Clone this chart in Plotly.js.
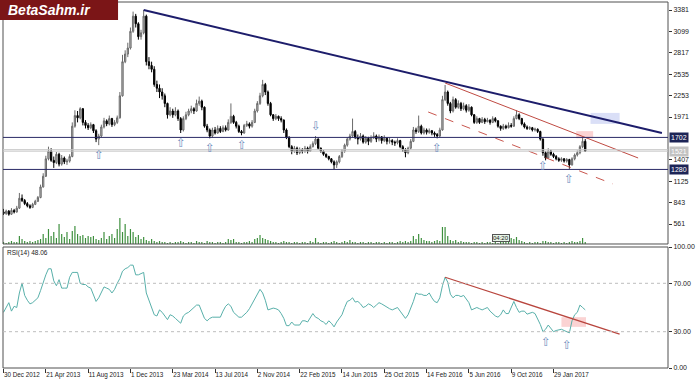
<!DOCTYPE html>
<html><head><meta charset="utf-8">
<script src="https://cdn.plot.ly/plotly-3.0.1.min.js"></script>
<style>html,body{margin:0;padding:0;background:#fff}#chart{width:700px;height:382px}</style>
</head><body><div id="chart"></div>
<script>
// ---- weekly OHLC (bar index = week since 30 Dec 2012) ----
const open = [720,700,730,690,740,720,770,900,870,830,
800,780,820,860,910,1050,1190,1420,1520,1400,
1370,1480,1350,1430,1380,1390,1450,1850,1990,1960,
2080,1900,1860,1830,1870,1790,1680,1720,1840,1920,
1880,1950,1870,1900,1960,2250,2700,2800,2880,3100,
3300,3200,3030,3080,3300,2700,2650,2600,2400,2350,
2300,2250,2150,2000,2050,2000,2050,1950,1800,1950,
2000,2050,2080,2050,2150,2180,2100,1850,1800,1720,
1800,1760,1820,1780,1830,1800,1900,1980,1900,1850,
1780,1760,1860,1880,1850,1900,2050,2150,2250,2400,
2300,2150,2000,1950,1980,1950,1930,1800,1700,1580,
1520,1560,1500,1540,1520,1560,1520,1580,1620,1680,
1560,1520,1480,1450,1420,1380,1340,1380,1450,1520,
1600,1680,1720,1780,1700,1680,1720,1640,1690,1650,
1700,1720,1680,1710,1660,1690,1650,1660,1640,1630,
1660,1580,1540,1500,1560,1650,1800,1780,1850,1760,
1800,1770,1790,1760,1740,1720,1800,2200,2300,2150,
2050,2200,2100,2150,2080,2120,2060,2100,2000,1900,
1950,1900,1940,1910,1930,1900,1950,1920,1850,1820,
1850,1830,1860,1850,1950,2000,1950,1880,1840,1820,
1830,1800,1810,1780,1680,1500,1430,1520,1480,1450,
1420,1400,1420,1390,1410,1340,1420,1470,1500,1580,
1650];
const high = [760,750,745,770,760,800,970,950,890,850,
820,840,880,930,1080,1230,1460,1580,1560,1450,
1510,1500,1470,1450,1420,1480,1900,2060,2050,2100,
2090,1930,1890,1900,1880,1810,1750,1870,1960,1940,
1990,1960,1930,1990,2300,2790,2850,2950,3150,3360,
3330,3220,3120,3381,3320,2760,2700,2640,2450,2400,
2350,2280,2160,2100,2080,2100,2070,1970,1980,2040,
2080,2120,2100,2200,2240,2200,2110,1880,1820,1830,
1840,1860,1850,1860,1860,1940,2150,2000,1920,1870,
1800,1880,1920,1900,1930,2080,2180,2290,2460,2420,
2320,2170,2010,2010,1990,1980,1940,1820,1720,1600,
1590,1580,1570,1560,1590,1580,1610,1650,1720,1690,
1570,1530,1490,1460,1430,1400,1400,1470,1550,1620,
1700,1750,1950,1800,1740,1760,1740,1720,1710,1730,
1770,1740,1740,1720,1730,1700,1700,1680,1660,1690,
1670,1600,1560,1580,1680,1840,1830,1990,1870,1830,
1820,1820,1800,1780,1760,1830,2250,2393,2320,2170,
2240,2220,2190,2170,2160,2140,2140,2110,2010,1980,
1960,1970,1960,1960,1940,1980,1970,1930,1860,1880,
1870,1900,1890,1980,2060,2020,1960,1900,1860,1850,
1840,1830,1820,1790,1690,1520,1560,1540,1500,1470,
1440,1440,1430,1430,1420,1440,1490,1530,1600,1702,
1680];
const low = [680,680,670,680,700,710,760,850,810,780,
760,770,810,850,900,1040,1180,1400,1380,1300,
1350,1320,1330,1350,1340,1370,1440,1830,1900,1940,
1860,1820,1800,1810,1760,1640,1600,1700,1820,1850,
1860,1840,1850,1880,1950,2240,2680,2760,2860,3080,
3150,2990,2990,3060,2650,2600,2560,2370,2300,2220,
2200,2100,1950,1980,1960,1980,1920,1760,1780,1930,
1980,2020,2010,2040,2120,2060,1830,1770,1690,1700,
1740,1750,1760,1770,1780,1790,1880,1880,1820,1760,
1730,1750,1840,1820,1830,1890,2030,2130,2230,2260,
2120,1980,1920,1930,1920,1900,1760,1680,1560,1480,
1500,1470,1480,1490,1500,1490,1510,1570,1600,1540,
1500,1460,1430,1400,1360,1280,1300,1360,1430,1500,
1580,1660,1700,1680,1610,1660,1620,1620,1600,1630,
1680,1640,1650,1620,1640,1610,1620,1600,1590,1610,
1560,1510,1440,1480,1540,1640,1750,1760,1740,1740,
1740,1750,1730,1710,1690,1700,1790,2180,2120,2020,
2030,2080,2080,2050,2060,2030,2040,1980,1880,1880,
1880,1890,1880,1900,1870,1890,1900,1830,1790,1800,
1810,1820,1830,1840,1940,1930,1860,1820,1800,1800,
1780,1780,1760,1660,1460,1400,1420,1460,1430,1400,
1380,1380,1370,1370,1290,1330,1400,1450,1480,1560,
1510];
const close = [700,730,690,740,720,770,900,870,830,800,
780,820,860,910,1050,1190,1420,1520,1400,1370,
1480,1350,1430,1380,1390,1450,1850,1990,1960,2080,
1900,1860,1830,1870,1790,1680,1720,1840,1920,1880,
1950,1870,1900,1960,2250,2700,2800,2880,3100,3300,
3200,3030,3080,3300,2700,2650,2600,2400,2350,2300,
2250,2150,2000,2050,2000,2050,1950,1800,1950,2000,
2050,2080,2050,2150,2180,2100,1850,1800,1720,1800,
1760,1820,1780,1830,1800,1900,1980,1900,1850,1780,
1760,1860,1880,1850,1900,2050,2150,2250,2400,2300,
2150,2000,1950,1980,1950,1930,1800,1700,1580,1520,
1560,1500,1540,1520,1560,1520,1580,1620,1680,1560,
1520,1480,1450,1420,1380,1340,1380,1450,1520,1600,
1680,1720,1780,1700,1680,1720,1640,1690,1650,1700,
1720,1680,1710,1660,1690,1650,1660,1640,1630,1660,
1580,1540,1500,1560,1650,1800,1780,1850,1760,1800,
1770,1790,1760,1740,1720,1800,2200,2300,2150,2050,
2200,2100,2150,2080,2120,2060,2100,2000,1900,1950,
1900,1940,1910,1930,1900,1950,1920,1850,1820,1850,
1830,1860,1850,1950,2000,1950,1880,1840,1820,1830,
1800,1810,1780,1680,1500,1430,1520,1480,1450,1420,
1400,1420,1390,1410,1340,1420,1470,1500,1580,1650,
1521];
const volume = [2,1,2,3,2,2,8,5,3,2,
3,2,3,4,5,10,6,15,8,12,
6,20,10,7,12,5,13,18,10,8,
9,6,8,7,8,5,4,6,12,5,
8,10,6,15,26,12,20,8,15,12,
7,9,5,7,4,3,5,3,2,3,
2,2,1,2,1,2,2,3,2,1,
2,2,1,3,2,2,1,3,2,2,
1,2,2,1,2,5,4,5,2,2,
1,2,2,3,2,5,6,9,6,5,
4,3,2,2,1,2,3,2,2,1,
2,2,1,2,2,1,3,2,6,2,
1,2,2,1,2,3,2,1,2,3,
2,4,2,2,1,2,2,1,2,2,
1,2,2,1,2,1,2,2,1,2,
3,2,3,2,3,8,5,10,6,4,
3,3,2,3,4,3,17,17,8,4,
3,4,2,3,2,2,2,1,2,2,
1,2,1,2,2,1,2,1,3,2,
2,3,6,5,7,4,3,2,1,2,
1,2,2,1,3,3,2,2,1,2,
2,1,2,1,2,3,2,2,3,6,
2];
const rsi = [46,50,54,47,51,50,62,70,60,56,
53,54,56,58,64,71,77,82,82,72,
68,73,66,66,66,75,79,79,79,70,
69,69,67,66,60,55,58,63,67,66,
65,62,65,70,74,80,82,83,85,85,
77,77,78,79,62,56,50,44,43,48,
46,43,40,44,43,41,39,37,43,45,
46,48,50,52,52,46,41,39,41,42,
42,42,42,47,51,53,51,46,44,42,
42,44,46,49,53,58,62,65,62,56,
48,49,49.5,49,48,45,41,35,35,38,
35.5,35.5,35.5,39,39,38,42,45,42,41,
39,38,36,39,37,34,38,41,44,50,
55,56,58,54.5,55,53,50,51,53,52,
50,52,54,53,51.5,50,49,48,49,50,
47,44,41,44,49,55,62,61,61,60,
60,62,58,55,54,58,68,75,71,61,
58,60,60,59,60,57,54,48,49,50,
49,48,49,50,47,45,43,42,44,48,
45,45,50,55,50,46,47,47,44.5,45.5,
46,45,41,36,30,32,35.5,33,30,31,
31.5,32,31,30,29,39,44,46,52,50,
48.06];

const tickBars = [0,16,32,48,64,80,96,112,128,144,160,176,192,208];
const tickLabels = ['30 Dec 2012','21 Apr 2013','11 Aug 2013','1 Dec 2013','23 Mar 2014','13 Jul 2014','2 Nov 2014','22 Feb 2015','14 Jun 2015','25 Oct 2015','14 Feb 2016','5 Jun 2016','9 Oct 2016','29 Jan 2017'];
const priceTicks = [3381,3099,2817,2535,2253,1971,1407,1125,843,561];
const rsiTicks = [0,30,70,100];
const rsiTickLabels = ['0.00','30.00','70.00','100.00'];

// drawn objects (bar index, price)
const resistX = [53, 249], resistY = [3381, 1760];
const chanTopX = [167, 240], chanTopY = [2419, 1431];
const chanBotX = [160.6, 230.5], chanBotY = [2037, 1088];
const rsiLineX = [167, 233], rsiLineY = [75, 28];
const navyLevels = [1702, 1280];
const grayLevels = [1540, 1521];
const blueZoneX = [222, 233], blueZoneY = [1880, 2025];
const pinkZoneX = [216.6, 223], pinkZoneY = [1690, 1785];
const rsiZoneX = [211, 220.3], rsiZoneY = [34, 42];
const upArrowBars = [36, 67, 78, 90, 164, 204, 214];
const downArrowBars = [118];
const rsiArrowBars = [205, 213];
const lastLevels = [1702, 1521, 1280];
const lastLevelColors = ['#1c2456', '#c2c2c2', '#1c2456'];

const bars = close.map((_, i) => i);
const FONT = 'Liberation Sans, Arial, sans-serif';
const ARROW_FONT = {family:'DejaVu Sans', size:12, color:'#7090c0'};

const traces = [
  {type:'bar', x:bars, y:volume, xaxis:'x', yaxis:'y3', width:0.45,
   marker:{color:'#3d8f3d', line:{width:0}}, hoverinfo:'none'},
  {type:'candlestick', x:bars, open:open, high:high, low:low, close:close, xaxis:'x', yaxis:'y',
   increasing:{line:{color:'#6a6a6a', width:1}, fillcolor:'#c4c4c4'},
   decreasing:{line:{color:'#000000', width:1}, fillcolor:'#000000'},
   whiskerwidth:0, hoverinfo:'none'},
  {type:'scatter', mode:'lines', x:resistX, y:resistY, xaxis:'x', yaxis:'y',
   line:{color:'#1d1d6b', width:2}, hoverinfo:'none'},
  {type:'scatter', mode:'lines', x:chanTopX, y:chanTopY, xaxis:'x', yaxis:'y',
   line:{color:'#bf4a42', width:1}, hoverinfo:'none'},
  {type:'scatter', mode:'lines', x:chanBotX, y:chanBotY, xaxis:'x', yaxis:'y',
   line:{color:'#c9574f', width:1, dash:'dash'}, hoverinfo:'none'},
  {type:'scatter', mode:'lines', x:bars, y:rsi, xaxis:'x', yaxis:'y2',
   line:{color:'#58b0aa', width:1}, hoverinfo:'none'},
  {type:'scatter', mode:'lines', x:rsiLineX, y:rsiLineY, xaxis:'x', yaxis:'y2',
   line:{color:'#b8453d', width:1.2}, hoverinfo:'none'}
];

const shapes = [];
shapes.push({type:'rect', xref:'paper', yref:'paper', x0:0, x1:1, y0:0.3388, y1:1, line:{color:'#505050', width:1}});
shapes.push({type:'rect', xref:'paper', yref:'paper', x0:0, x1:1, y0:0, y1:0.3306, line:{color:'#505050', width:1}});
navyLevels.forEach(v => shapes.push({type:'line', xref:'paper', x0:0, x1:1, yref:'y', y0:v, y1:v, line:{color:'#2a2a66', width:1}}));
grayLevels.forEach(v => shapes.push({type:'line', xref:'paper', x0:0, x1:1, yref:'y', y0:v, y1:v, line:{color:'#c6c6c6', width:1}}));
shapes.push({type:'rect', xref:'x', yref:'y', x0:blueZoneX[0], x1:blueZoneX[1], y0:blueZoneY[0], y1:blueZoneY[1], fillcolor:'#dadff7', line:{width:0}, layer:'below'});
shapes.push({type:'rect', xref:'x', yref:'y', x0:pinkZoneX[0], x1:pinkZoneX[1], y0:pinkZoneY[0], y1:pinkZoneY[1], fillcolor:'#fbd3d3', line:{width:0}, layer:'below'});
shapes.push({type:'rect', xref:'x', yref:'y2', x0:rsiZoneX[0], x1:rsiZoneX[1], y0:rsiZoneY[0], y1:rsiZoneY[1], fillcolor:'#fbd3d3', line:{width:0}, layer:'below'});
[70, 30].forEach(v => shapes.push({type:'line', xref:'paper', x0:0, x1:1, yref:'y2', y0:v, y1:v, line:{color:'#bdbdbd', width:1, dash:'dot'}}));
shapes.push({type:'rect', xref:'paper', yref:'paper', x0:-0.01, x1:0.173, y0:0.951, y1:1.01, fillcolor:'#7b1517', line:{width:0}});

const annotations = [];
annotations.push({xref:'paper', yref:'paper', x:0.07, y:0.978, xanchor:'center', yanchor:'middle', text:'<b><i>BetaSahm.ir</i></b>', showarrow:false,
  font:{family:FONT, size:14, color:'#ffffff'}});
upArrowBars.forEach(b => annotations.push({xref:'x', yref:'y', x:b, y:low[b], text:'⇧', showarrow:false, xanchor:'center', yanchor:'top', yshift:-1, font:ARROW_FONT}));
downArrowBars.forEach(b => annotations.push({xref:'x', yref:'y', x:b, y:high[b], text:'⇩', showarrow:false, xanchor:'center', yanchor:'bottom', yshift:1, font:ARROW_FONT}));
rsiArrowBars.forEach(b => annotations.push({xref:'x', yref:'y2', x:b, y:rsi[b], text:'⇧', showarrow:false, xanchor:'center', yanchor:'top', yshift:-4, font:ARROW_FONT}));
lastLevels.forEach((v, k) => annotations.push({xref:'paper', yref:'y', x:1, y:v, xanchor:'left', yanchor:'middle', xshift:1, text:String(v), showarrow:false,
  bgcolor:lastLevelColors[k], borderpad:1, font:{family:FONT, size:7, color:'#ffffff'}}));
annotations.push({xref:'paper', yref:'paper', x:0.003, y:0.314, xanchor:'left', yanchor:'middle', text:'RSI(14) ' + rsi[rsi.length-1].toFixed(2), showarrow:false,
  font:{family:FONT, size:6.5, color:'#222222'}});
annotations.push({xref:'paper', yref:'paper', x:0.749, y:0.354, xanchor:'center', yanchor:'middle', text:'04:20', showarrow:false,
  bgcolor:'#e6f4e6', bordercolor:'#555555', borderwidth:1, borderpad:0, font:{family:FONT, size:6, color:'#222222'}});

const layout = {
  width:700, height:382, margin:{l:3, r:32, t:2, b:14},
  paper_bgcolor:'#ffffff', plot_bgcolor:'#ffffff', showlegend:false, hovermode:false,
  xaxis:{domain:[0,1], range:[-0.2, 251.3], anchor:'y2', tickvals:tickBars, ticktext:tickLabels,
    ticks:'outside', ticklen:4, tickcolor:'#333', ticklabelposition:'outside right', tickangle:0,
    tickfont:{family:FONT, size:6.3, color:'#222'}, showgrid:false, zeroline:false, showline:false,
    rangeslider:{visible:false}, fixedrange:true},
  yaxis:{domain:[0.3388,1], range:[297.4, 3486.4], anchor:'x', side:'right', tickvals:priceTicks,
    ticktext:priceTicks.map(String), ticks:'outside', ticklen:3, tickcolor:'#333',
    tickfont:{family:FONT, size:7, color:'#222'}, showgrid:false, zeroline:false, showline:false},
  yaxis2:{domain:[0,0.3306], range:[0,100], anchor:'x', side:'right', tickvals:rsiTicks, ticktext:rsiTickLabels,
    ticks:'outside', ticklen:3, tickcolor:'#333', tickfont:{family:FONT, size:7, color:'#222'},
    showgrid:false, zeroline:false, showline:false},
  yaxis3:{overlaying:'y', range:[0,242], visible:false, anchor:'x'},
  shapes:shapes, annotations:annotations
};

Plotly.newPlot('chart', traces, layout, {staticPlot:true, displayModeBar:false});
</script></body></html>
